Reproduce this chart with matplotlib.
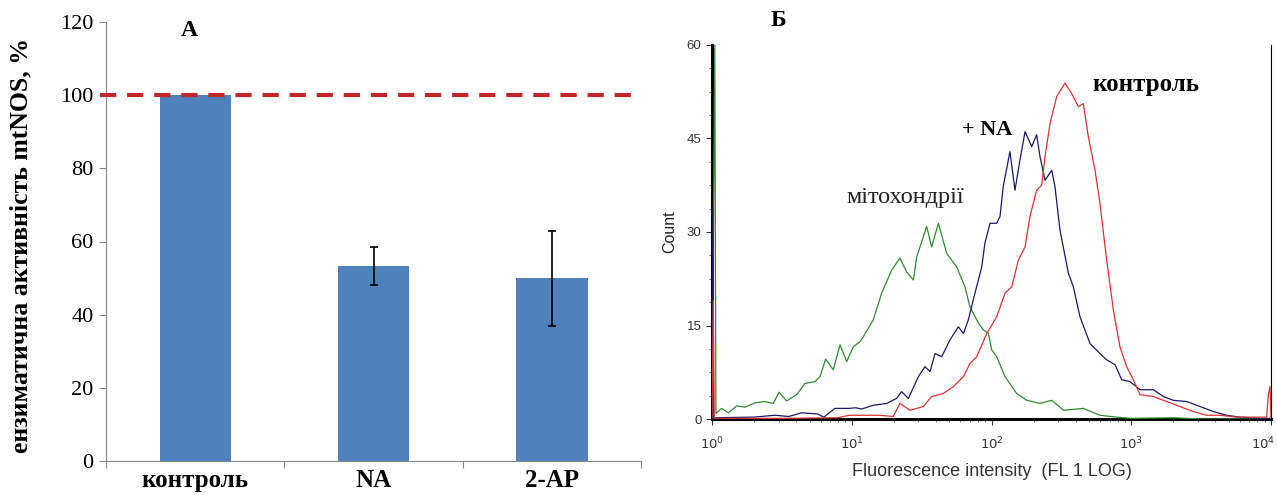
import numpy as np
import matplotlib
matplotlib.use("Agg")
from matplotlib import pyplot as plt
from matplotlib.ticker import MultipleLocator, LogLocator, NullFormatter
from matplotlib.transforms import ScaledTranslation

W, H = 1277, 497

# panel A: bar chart
categories = ['контроль', 'NA', '2-AP']
activity = [100, 53.3, 50.0]
activity_err = [0, 5.3, 13.0]
reference_level = 100

# panel B: flow cytometry histograms (log10 of intensity, count)
mito_logx = [0.000, 0.020, 0.028, 0.069, 0.117, 0.177, 0.236, 0.308, 0.379, 0.439, 0.479, 0.534,
             0.606, 0.665, 0.737, 0.773, 0.813, 0.868, 0.916, 0.964, 1.011, 1.059, 1.083, 1.154,
             1.214, 1.286, 1.345, 1.393, 1.441, 1.465, 1.536, 1.572, 1.620, 1.679, 1.751, 1.810,
             1.846, 1.906, 1.941, 1.977, 2.001, 2.037, 2.097, 2.180, 2.252, 2.347, 2.431, 2.514,
             2.657, 2.776, 2.896, 3.000, 3.300, 3.500, 4.000]
mito_count = [0, 60, 0.9, 1.7, 1.0, 2.1, 1.9, 2.6, 2.8, 2.5, 4.3, 2.9,
              3.9, 5.7, 6.0, 6.8, 9.6, 7.9, 11.9, 9.2, 11.6, 12.4, 13.2, 15.9,
              20.2, 23.9, 25.8, 23.6, 22.3, 26.0, 30.9, 27.6, 31.4, 26.6, 24.4, 21.2,
              18.0, 15.4, 14.3, 13.8, 11.1, 10.0, 6.8, 4.1, 3.0, 2.5, 3.0, 1.4,
              1.7, 0.6, 0.3, 0.1, 0.2, 0.0, 0.0]

na_logx = [0.000, 0.006, 0.012, 0.300, 0.450, 0.550, 0.642, 0.756, 0.800, 0.880, 0.975, 1.030,
           1.070, 1.154, 1.250, 1.321, 1.357, 1.405, 1.477, 1.524, 1.560, 1.596, 1.644, 1.703,
           1.763, 1.799, 1.834, 1.882, 1.930, 1.953, 1.989, 2.037, 2.061, 2.084, 2.132, 2.168,
           2.204, 2.240, 2.288, 2.323, 2.347, 2.383, 2.431, 2.454, 2.490, 2.550, 2.586, 2.633,
           2.705, 2.776, 2.824, 2.884, 2.932, 2.991, 3.063, 3.158, 3.230, 3.301, 3.397, 3.492,
           3.587, 3.683, 3.778, 3.921, 4.000]
na_count = [0.2, 34, 0.2, 0.3, 0.6, 0.4, 1.0, 0.8, 0.3, 1.7, 1.7, 1.8,
            1.6, 2.2, 2.5, 3.3, 4.4, 3.3, 6.8, 8.4, 7.6, 10.5, 10.0, 12.7,
            14.8, 13.7, 15.9, 20.2, 24.4, 28.2, 31.4, 31.4, 32.5, 37.3, 42.9, 36.7,
            41.6, 46.1, 43.7, 45.6, 42.1, 38.3, 39.9, 37.3, 30.3, 23.4, 21.2, 16.4,
            12.1, 10.5, 9.5, 8.7, 6.3, 6.0, 4.7, 4.7, 3.6, 3.0, 2.8, 2.0,
            1.2, 0.6, 0.3, 0.1, 0.1]

ctrl_logx = [0.000, 0.009, 0.015, 0.500, 0.900, 0.980, 1.059, 1.202, 1.297, 1.345, 1.417, 1.512,
             1.572, 1.655, 1.727, 1.799, 1.846, 1.894, 1.966, 2.037, 2.097, 2.145, 2.192, 2.240,
             2.275, 2.323, 2.359, 2.383, 2.419, 2.466, 2.526, 2.574, 2.622, 2.657, 2.693, 2.741,
             2.776, 2.824, 2.872, 2.919, 2.967, 3.015, 3.063, 3.158, 3.254, 3.349, 3.444, 3.540,
             3.635, 3.754, 3.969, 3.981, 3.993, 4.000]
ctrl_count = [0.3, 19, 0.1, 0.1, 0.2, 0.6, 0.6, 0.6, 0.4, 2.5, 1.4, 2.0,
              3.6, 4.1, 5.2, 6.8, 8.9, 10.0, 13.7, 16.4, 20.2, 21.2, 25.5, 27.6,
              32.5, 36.7, 37.5, 42.1, 47.4, 51.7, 53.9, 52.2, 50.1, 50.6, 45.3, 39.9,
              34.6, 25.5, 17.5, 11.6, 8.4, 6.3, 3.9, 3.6, 2.8, 2.0, 1.2, 0.6,
              0.6, 0.3, 0.3, 3.9, 5.2, 0.0]

serif = 'Liberation Serif'
sans = 'Liberation Sans'

fig = plt.figure(figsize=(W / 100, H / 100), dpi=100)


def px_box(x0, y0, x1, y1):
    # pixel box (top-left origin) -> figure fraction rect
    return [x0 / W, 1 - y1 / H, (x1 - x0) / W, (y1 - y0) / H]


# ---------------- panel A ----------------
ax1 = fig.add_axes(px_box(106, 22, 641, 461))
x = np.arange(len(categories))
ax1.bar(x, activity, width=0.4, color='#4f81bd', zorder=2)
ax1.errorbar(x[1:], activity[1:], yerr=activity_err[1:], fmt='none', ecolor='black',
             elinewidth=1.2, capsize=3, capthick=1.2, zorder=3)
ax1.plot([-0.535, 2.47], [reference_level, reference_level], color='#c0262a', lw=3,
         dashes=(3.9, 2.6), clip_on=False, zorder=4)
ax1.set_xlim(-0.5, 2.5)
ax1.set_ylim(0, 120)
ax1.set_yticks(range(0, 121, 20))
ax1.set_xticks([-0.5, 0.5, 1.5, 2.5], minor=False)
ax1.set_xticklabels([])
ax1.set_xticks(x, minor=True)
ax1.set_xticklabels(categories, minor=True, fontfamily=serif, fontweight='bold', fontsize=18)
ax1.tick_params(axis='x', which='minor', length=0, pad=6)
ax1.tick_params(axis='x', which='major', length=5, color='#868686', direction='out')
ax1.tick_params(axis='y', length=5, color='#868686', direction='out', labelsize=16, pad=4)
for lab in ax1.get_yticklabels():
    lab.set_fontfamily(serif)
for s in ['top', 'right']:
    ax1.spines[s].set_visible(False)
for s in ['left', 'bottom']:
    ax1.spines[s].set_color('#868686')
ax1.set_ylabel('ензиматична активність mtNOS, %', fontfamily=serif, fontweight='bold',
               fontsize=18.5)
ax1.yaxis.set_label_coords(-0.137, 0.49)
fig.text(189 / W, 1 - 30 / H, 'А', fontfamily=serif, fontweight='bold', fontsize=17,
         ha='center', va='center')

# ---------------- panel Б ----------------
ax2 = fig.add_axes(px_box(712, 45, 1271, 419))
ax2.plot(np.power(10, mito_logx), mito_count, color='#2f8a2f', lw=0.9, zorder=3)
ax2.plot(np.power(10, na_logx), na_count, color='#1a1a66', lw=0.9, zorder=3)
ax2.plot(np.power(10, ctrl_logx), ctrl_count, color='#d83434', lw=0.9, zorder=3)
ax2.set_xscale('log')
ax2.set_xlim(1, 1e4)
ax2.set_ylim(0, 60)
ax2.set_xticks([1, 10, 100, 1000, 10000])
ax2.set_xticklabels([r'$10^{0}$', r'$10^{1}$', r'$10^{2}$', r'$10^{3}$', r'$10^{4}$'])
ax2.xaxis.set_minor_locator(LogLocator(base=10, subs=np.arange(2, 10)))
ax2.xaxis.set_minor_formatter(NullFormatter())
ax2.set_yticks([0, 15, 30, 45, 60])
ax2.yaxis.set_minor_locator(MultipleLocator(3.75))
ax2.tick_params(axis='both', which='major', length=4, width=0.8, labelsize=9.5, colors='#333333')
ax2.tick_params(axis='both', which='minor', length=2.5, width=0.6, color='#555555')
ax2.tick_params(axis='x', pad=8)
for lab in ax2.get_yticklabels():
    lab.set_fontfamily(sans)
last = ax2.get_xticklabels()[-1]
last.set_transform(last.get_transform() + ScaledTranslation(-8 / 100, 0, fig.dpi_scale_trans))
ax2.spines['top'].set_visible(False)
ax2.spines['right'].set_linewidth(0.8)
ax2.spines['left'].set_linewidth(2.2)
ax2.spines['bottom'].set_linewidth(2.2)
ax2.set_ylabel('Count', fontfamily=sans, fontsize=11.5, labelpad=7, color='#222222')
ax2.set_xlabel('Fluorescence intensity  (FL 1 LOG)', fontfamily=sans, fontsize=13,
               color='#333333', labelpad=8)

fig.text(778 / W, 1 - 20 / H, 'Б', fontfamily=serif, fontweight='bold', fontsize=17,
         ha='center', va='center')
fig.text(905 / W, 1 - 198 / H, 'мітохондрії', fontfamily=serif, fontsize=17.5,
         ha='center', va='center', color='#222222')
fig.text(987 / W, 1 - 130 / H, '+ NA', fontfamily=serif, fontweight='bold', fontsize=16,
         ha='center', va='center')
fig.text(1146 / W, 1 - 84 / H, 'контроль', fontfamily=serif, fontweight='bold', fontsize=18,
         ha='center', va='center')

fig.savefig('out.png', dpi=100)
